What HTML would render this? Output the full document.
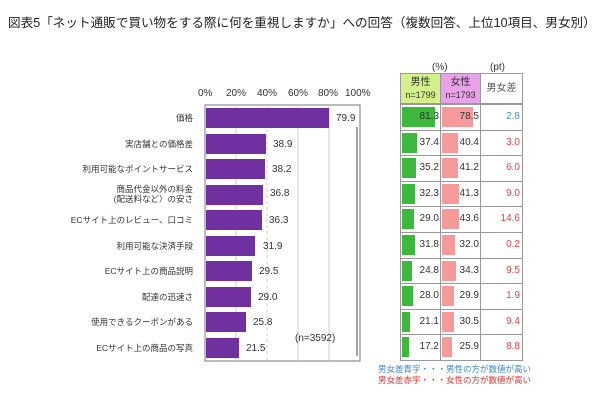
<!DOCTYPE html>
<html><head><meta charset="utf-8"><style>
body{margin:0;width:600px;height:400px;background:#fff;position:relative;overflow:hidden;font-family:"Liberation Sans","Noto Sans CJK JP",sans-serif;color:#333}
div{position:absolute}
.lab{right:407px;font-size:8.5px;text-align:right;line-height:10px;white-space:nowrap}
.bar{left:206px;height:20px;background:#7030a0}
.val{font-size:10px}
.ax{font-size:10px;top:88px}
.cell{border:1px solid #999;box-sizing:border-box}
.num{font-size:10px;text-align:right}
</style></head><body>
<div style="left:8px;top:12px;font-size:12.6px;color:#222;white-space:nowrap">図表5「ネット通販で買い物をする際に何を重視しますか」への回答（複数回答、上位10項目、男女別）</div>
<div class="ax" style="left:198px">0%</div><div class="ax" style="left:226px">20%</div><div class="ax" style="left:257px">40%</div><div class="ax" style="left:288px">60%</div><div class="ax" style="left:318px">80%</div><div class="ax" style="left:345px">100%</div>
<svg style="position:absolute;left:0;top:0" width="600" height="400">
<rect x="205" y="105" width="155" height="256" fill="none" stroke="#777" stroke-width="1"/>
<g stroke="#ccc"><line x1="236" y1="105" x2="236" y2="361"/><line x1="267" y1="105" x2="267" y2="361" stroke-dasharray="3,3"/><line x1="298" y1="105" x2="298" y2="361"/><line x1="329" y1="105" x2="329" y2="361"/></g>
<line x1="357" y1="127" x2="357" y2="356" stroke="#444"/>
</svg>
<div class="bar" style="top:108px;width:123px"></div><div class="val" style="left:336px;top:113px">79.9</div>
<div class="bar" style="top:134px;width:60px"></div><div class="val" style="left:273px;top:139px">38.9</div>
<div class="bar" style="top:159px;width:59px"></div><div class="val" style="left:272px;top:164px">38.2</div>
<div class="bar" style="top:185px;width:57px"></div><div class="val" style="left:270px;top:188px">36.8</div>
<div class="bar" style="top:210px;width:56px"></div><div class="val" style="left:269px;top:215px">36.3</div>
<div class="bar" style="top:236px;width:49px"></div><div class="val" style="left:263px;top:241px">31.9</div>
<div class="bar" style="top:261px;width:46px"></div><div class="val" style="left:259px;top:266px">29.5</div>
<div class="bar" style="top:287px;width:45px"></div><div class="val" style="left:258px;top:292px">29.0</div>
<div class="bar" style="top:312px;width:40px"></div><div class="val" style="left:253px;top:317px">25.8</div>
<div class="bar" style="top:338px;width:33px"></div><div class="val" style="left:246px;top:343px">21.5</div>
<div style="left:295px;top:333px;font-size:10px">(n=3592)</div>
<div class="lab" style="top:113px">価格</div>
<div class="lab" style="top:139px">実店舗との価格差</div>
<div class="lab" style="top:164px">利用可能なポイントサービス</div>
<div class="lab" style="top:184px">商品代金以外の料金<br>(配送料など）の安さ</div>
<div class="lab" style="top:215px">ECサイト上のレビュー、口コミ</div>
<div class="lab" style="top:241px">利用可能な決済手段</div>
<div class="lab" style="top:266px">ECサイト上の商品説明</div>
<div class="lab" style="top:292px">配達の迅速さ</div>
<div class="lab" style="top:317px">使用できるクーポンがある</div>
<div class="lab" style="top:343px">ECサイト上の商品の写真</div>
<div style="left:432px;top:62px;font-size:10px">(%)</div><div style="left:490px;top:62px;font-size:10px">(pt)</div>
<div class="cell" style="left:400px;top:73px;width:41px;height:31px;background:#d4f08a;font-size:10px;text-align:center;line-height:13px;padding-top:2px">男性<br><span style="font-size:9px">n=1799</span></div>
<div class="cell" style="left:440px;top:73px;width:41px;height:31px;background:#e8a2e8;font-size:10px;text-align:center;line-height:13px;padding-top:2px">女性<br><span style="font-size:9px">n=1793</span></div>
<div class="cell" style="left:480px;top:73px;width:43px;height:31px;font-size:10px;text-align:center;line-height:29px;color:#555">男女差</div>
<div id="rows"></div>
<script>
var d=[[81.3,78.5,"2.8","#4f8fd0"],[37.4,40.4,"3.0"],[35.2,41.2,"6.0"],[32.3,41.3,"9.0"],[29.0,43.6,"14.6"],[31.8,32.0,"0.2"],[24.8,34.3,"9.5"],[28.0,29.9,"1.9"],[21.1,30.5,"9.4"],[17.2,25.9,"8.8"]];
var h="";d.forEach(function(r,i){var y=104+i*25.6;
var mw=r[0]*0.4,fw=r[1]*0.4;
h+='<div class="cell" style="left:400px;top:'+y+'px;width:41px;height:26.6px"></div><div style="left:402px;top:'+(y+3)+'px;width:'+mw+'px;height:20px;background:#3cb83c"></div><div class="num" style="left:400px;width:39px;top:'+(y+7)+'px">'+r[0].toFixed(1)+'</div>';
h+='<div class="cell" style="left:440px;top:'+y+'px;width:41px;height:26.6px"></div><div style="left:442px;top:'+(y+3)+'px;width:'+fw+'px;height:20px;background:#f59a9a"></div><div class="num" style="left:440px;width:39px;top:'+(y+7)+'px">'+r[1].toFixed(1)+'</div>';
h+='<div class="cell" style="left:480px;top:'+y+'px;width:43px;height:26.6px"></div><div class="num" style="left:480px;width:40px;top:'+(y+7)+'px;color:'+(r[3]||"#e84040")+'">'+r[2]+'</div>';});
document.getElementById("rows").innerHTML=h;
</script>
<div style="left:378px;top:363px;font-size:8.5px;color:#3a86d0;white-space:nowrap">男女差青字・・・男性の方が数値が高い</div>
<div style="left:378px;top:374px;font-size:8.5px;color:#e83030;white-space:nowrap">男女差赤字・・・女性の方が数値が高い</div>
</body></html>
